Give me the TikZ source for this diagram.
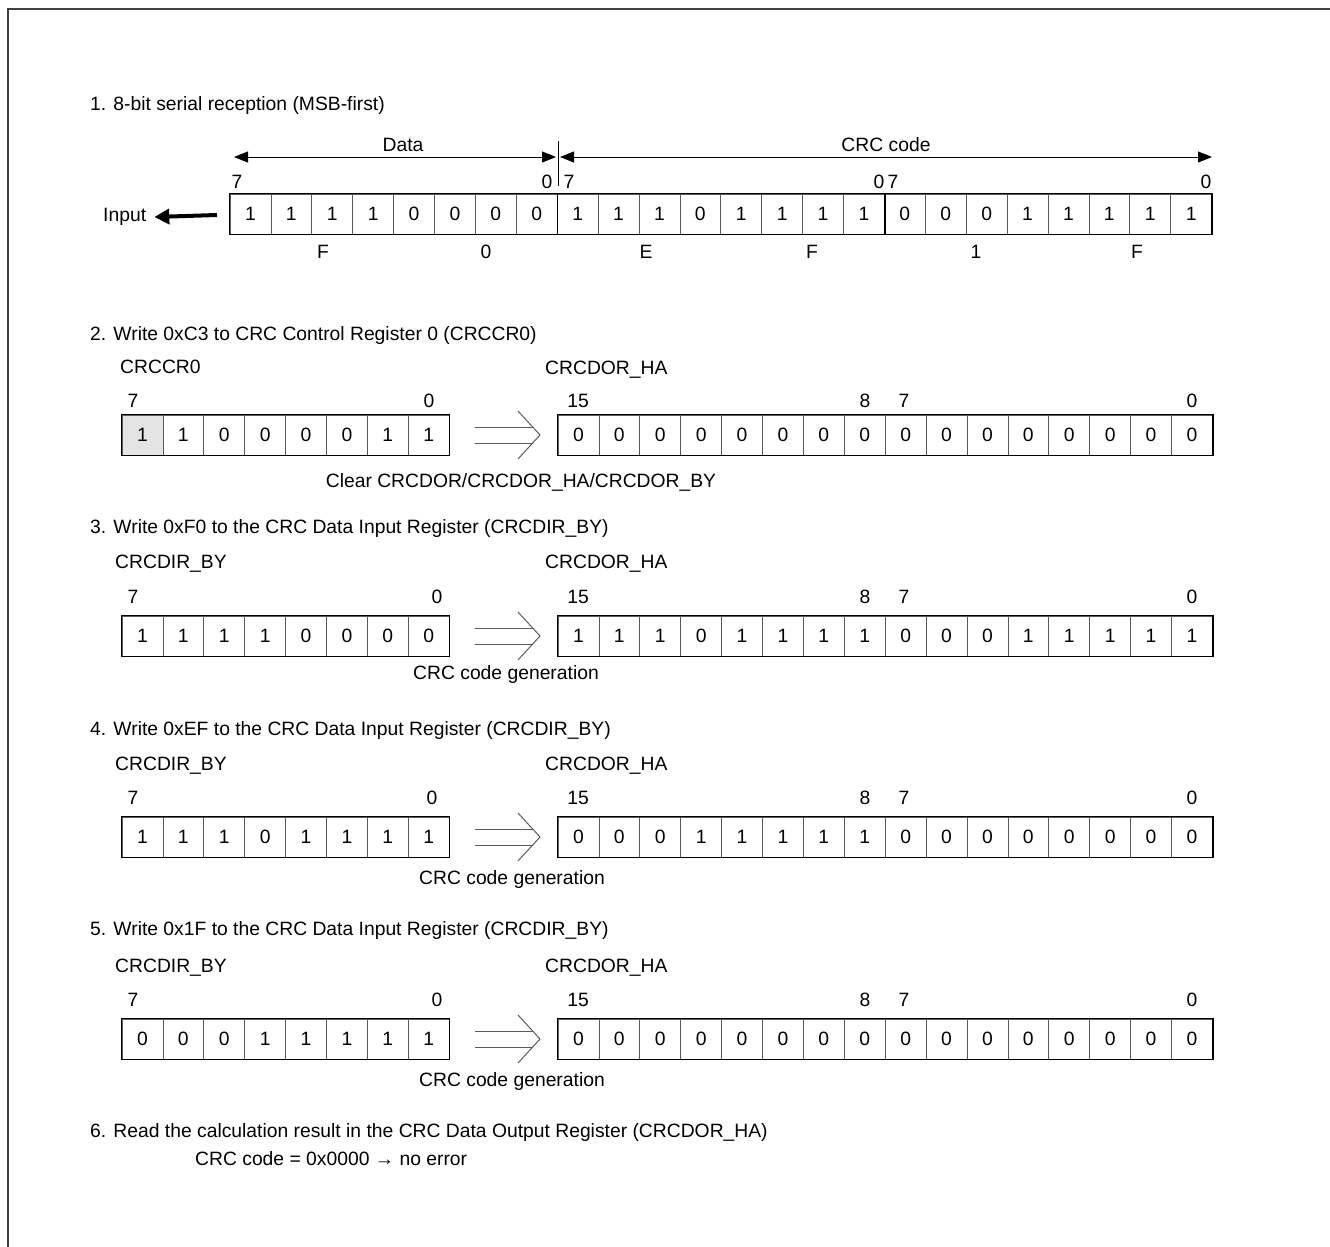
\documentclass[tikz,border=0pt]{standalone}
\usepackage{fontspec}
\setmainfont{Liberation Sans}
\usetikzlibrary{arrows.meta}
\definecolor{framegray}{HTML}{404040}
\definecolor{shadegray}{HTML}{E4E4E4}
\definecolor{divgray}{HTML}{5A5A5A}
\tikzset{
  txt/.style={font=\fontsize{19.3}{23}\selectfont, inner sep=0pt},
  lt/.style={txt, anchor=mid west, yshift=-4pt},
  captxt/.style={txt, yshift=-3pt},
  cell/.style={txt, minimum width=40.9pt, minimum height=40pt, draw=divgray, line width=0.7pt},
  outerbox/.style={draw=black, line width=1.6pt},
  dimline/.style={line width=1pt, {Triangle[length=14pt,width=11pt]}-{Triangle[length=14pt,width=11pt]}},
  dblline/.style={draw=divgray, line width=1pt},
}
\newcommand\myreg[4]{%
  \foreach \b [count=\i from 0] in {#4} {\node[cell] (#1-\i) at ({#2+(\i+0.5)*40.9}, #3) {\b};}
}
\newcommand\mydbl[2]{%
  \coordinate (#1s) at (475,#2);
  \coordinate (#1t) at (540,#2);
  \draw[dblline] (475,#2-8) -- (533,#2-8);
  \draw[dblline] (475,#2+8) -- (533,#2+8);
  \draw[dblline] (518,#2-24) -- (#1t) -- (518,#2+24);
}
\begin{document}
\begin{tikzpicture}[x=1pt,y=-1pt]
\useasboundingbox (0,0) rectangle (1330,1247);
\draw[framegray, line width=2pt] (1330,9) -- (8,9) -- (8,1247);

% ---------- Section 1 ----------
\node[lt] (t1) at (90,104) {1. 8-bit serial reception (MSB-first)};
\coordinate (dataL) at (234,157);
\coordinate (dataR) at (556,157);
\coordinate (crcL) at (560,157);
\coordinate (crcR) at (1212,157);
\draw[dimline] (dataL) -- (dataR);
\draw[dimline] (crcL) -- (crcR);
\coordinate (divT) at (558,141);
\coordinate (divB) at (558,186);
\draw[line width=0.8pt] (divT) -- (divB);
\node[txt] (ldata) at (403,145) {Data};
\node[txt] (lcrc) at (886,145) {CRC code};
\node[txt] (b1a) at (237,182) {7};
\node[txt] (b1b) at (547,182) {0};
\node[txt] (b1c) at (569,182) {7};
\node[txt] (b1d) at (879,182) {0};
\node[txt] (b1e) at (893,182) {7};
\node[txt] (b1f) at (1206,182) {0};
\myreg{r1}{230}{214}{1,1,1,1,0,0,0,0,1,1,1,0,1,1,1,1,0,0,0,1,1,1,1,1}
\draw[outerbox] (r1-0.north west) rectangle (r1-23.south east);
\draw[line width=1.6pt] (r1-7.north east) -- (r1-7.south east);
\draw[line width=1.6pt] (r1-15.north east) -- (r1-15.south east);
\node[lt] (input) at (103,215) {Input};
\coordinate (inS) at (217,215);
\draw[line width=4pt, -{Triangle[length=15pt,width=15pt]}] (inS) -- ([xshift=8pt]input.east);
\node[txt] (h1) at (323,252) {F};
\node[txt] (h2) at (486,252) {0};
\node[txt] (h3) at (646,252) {E};
\node[txt] (h4) at (812,252) {F};
\node[txt] (h5) at (976,252) {1};
\node[txt] (h6) at (1137,252) {F};

% ---------- Section 2 ----------
\node[lt] (t2) at (90,334) {2. Write 0xC3 to CRC Control Register 0 (CRCCR0)};
\node[lt] (l2a) at (120,367) {CRCCR0};
\node[lt] (l2b) at (545,368) {CRCDOR\_HA};
\node[txt] (b2a) at (133,401) {7};
\node[txt] (b2b) at (429,401) {0};
\node[txt] (b2c) at (578,401) {15};
\node[txt] (b2d) at (865,401) {8};
\node[txt] (b2e) at (904,401) {7};
\node[txt] (b2f) at (1192,401) {0};
\fill[shadegray] (122,415) rectangle ++(40.9,40);
\myreg{r2a}{122}{435}{1,1,0,0,0,0,1,1}
\draw[outerbox] (r2a-0.north west) rectangle (r2a-7.south east);
\myreg{r2b}{558}{435}{0,0,0,0,0,0,0,0,0,0,0,0,0,0,0,0}
\draw[outerbox] (r2b-0.north west) rectangle (r2b-15.south east);
\mydbl{a2}{435}
\node[captxt] (c2) at (521,479) {Clear CRCDOR/CRCDOR\_HA/CRCDOR\_BY};

% ---------- Section 3 ----------
\node[lt] (t3) at (90,527) {3. Write 0xF0 to the CRC Data Input Register (CRCDIR\_BY)};
\node[lt] (l3a) at (115,562) {CRCDIR\_BY};
\node[lt] (l3b) at (545,562) {CRCDOR\_HA};
\node[txt] (b3a) at (133,597) {7};
\node[txt] (b3b) at (437,597) {0};
\node[txt] (b3c) at (578,597) {15};
\node[txt] (b3d) at (865,597) {8};
\node[txt] (b3e) at (904,597) {7};
\node[txt] (b3f) at (1192,597) {0};
\myreg{r3a}{122}{636}{1,1,1,1,0,0,0,0}
\draw[outerbox] (r3a-0.north west) rectangle (r3a-7.south east);
\myreg{r3b}{558}{636}{1,1,1,0,1,1,1,1,0,0,0,1,1,1,1,1}
\draw[outerbox] (r3b-0.north west) rectangle (r3b-15.south east);
\mydbl{a3}{636}
\node[captxt] (c3) at (506,672) {CRC code generation};

% ---------- Section 4 ----------
\node[lt] (t4) at (90,729) {4. Write 0xEF to the CRC Data Input Register (CRCDIR\_BY)};
\node[lt] (l4a) at (115,764) {CRCDIR\_BY};
\node[lt] (l4b) at (545,764) {CRCDOR\_HA};
\node[txt] (b4a) at (133,798) {7};
\node[txt] (b4b) at (432,798) {0};
\node[txt] (b4c) at (578,798) {15};
\node[txt] (b4d) at (865,798) {8};
\node[txt] (b4e) at (904,798) {7};
\node[txt] (b4f) at (1192,798) {0};
\myreg{r4a}{122}{837}{1,1,1,0,1,1,1,1}
\draw[outerbox] (r4a-0.north west) rectangle (r4a-7.south east);
\myreg{r4b}{558}{837}{0,0,0,1,1,1,1,1,0,0,0,0,0,0,0,0}
\draw[outerbox] (r4b-0.north west) rectangle (r4b-15.south east);
\mydbl{a4}{837}
\node[captxt] (c4) at (512,876) {CRC code generation};

% ---------- Section 5 ----------
\node[lt] (t5) at (90,929) {5. Write 0x1F to the CRC Data Input Register (CRCDIR\_BY)};
\node[lt] (l5a) at (115,966) {CRCDIR\_BY};
\node[lt] (l5b) at (545,966) {CRCDOR\_HA};
\node[txt] (b5a) at (133,1000) {7};
\node[txt] (b5b) at (437,1000) {0};
\node[txt] (b5c) at (578,1000) {15};
\node[txt] (b5d) at (865,1000) {8};
\node[txt] (b5e) at (904,1000) {7};
\node[txt] (b5f) at (1192,1000) {0};
\myreg{r5a}{122}{1039}{0,0,0,1,1,1,1,1}
\draw[outerbox] (r5a-0.north west) rectangle (r5a-7.south east);
\myreg{r5b}{558}{1039}{0,0,0,0,0,0,0,0,0,0,0,0,0,0,0,0}
\draw[outerbox] (r5b-0.north west) rectangle (r5b-15.south east);
\mydbl{a5}{1039}
\node[captxt] (c5) at (512,1078) {CRC code generation};

% ---------- Section 6 ----------
\node[lt] (t6) at (90,1131) {6. Read the calculation result in the CRC Data Output Register (CRCDOR\_HA)};
\node[lt] (r6) at (195,1159) {CRC code = 0x0000 → no error};
\end{tikzpicture}
\end{document}
